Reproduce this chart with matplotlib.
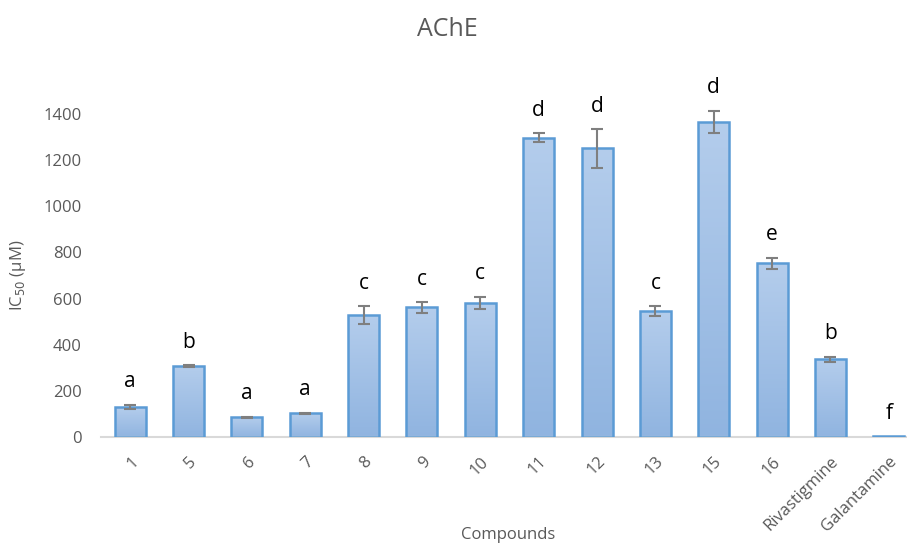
import matplotlib
matplotlib.use("Agg")
import matplotlib.pyplot as plt
import numpy as np
from matplotlib.colors import LinearSegmentedColormap

plt.rcParams['font.family'] = ['Open Sans', 'DejaVu Sans']

compounds = ['1', '5', '6', '7', '8', '9', '10', '11', '12', '13', '15', '16',
             'Rivastigmine', 'Galantamine']
ic50 = [130, 308, 85, 103, 530, 562, 582, 1297, 1251, 546, 1367, 753, 337, 3]
ic50_err = [10, 4, 3, 3, 38, 23, 26, 19, 84, 20, 48, 25, 12, 0]
groups = ['a', 'b', 'a', 'a', 'c', 'c', 'c', 'd', 'd', 'c', 'd', 'e', 'b', 'f']
y_ticks = [0, 200, 400, 600, 800, 1000, 1200, 1400]

W, H = 907, 545
fig = plt.figure(figsize=(W / 100, H / 100), dpi=100)
left, right, bottom, top = 101, 918, 437, 68
ax = fig.add_axes([left / W, 1 - bottom / H, (right - left) / W, (bottom - top) / H])

x = np.arange(len(compounds))
edge = '#5b9bd5'
bars = ax.bar(x, ic50, width=0.53, color='#9fbfe6', edgecolor=edge, linewidth=1.8, zorder=2)

# vertical gradient fill inside each bar
grad = np.linspace(0, 1, 256).reshape(-1, 1)
cmap = LinearSegmentedColormap.from_list('barfill', ['#90b4e0', '#b4cdec'])
for b in bars:
    x0, y0 = b.get_x(), b.get_y()
    w, h = b.get_width(), b.get_height()
    if h <= 0:
        continue
    im = ax.imshow(grad, extent=[x0, x0 + w, y0, y0 + h], origin='lower',
                   aspect='auto', cmap=cmap, zorder=2.1)
    im.set_clip_path(b)
    b.set_facecolor('none')
    b.set_zorder(2.6)

err = np.array(ic50_err)
has_err = err > 0
ax.errorbar(x[has_err], np.array(ic50)[has_err], yerr=err[has_err], fmt='none',
            ecolor='#7f7f7f', elinewidth=1.5, capsize=4.5, capthick=1.5, zorder=3)

for xi, v, e, g in zip(x, ic50, ic50_err, groups):
    ax.annotate(g, (xi, v + e), xytext=(0, 9), textcoords='offset points',
                ha='center', va='bottom', fontsize=15, color='black')

ax.set_xlim(-0.5, len(compounds) - 0.5)
ax.set_ylim(0, 1600)
ax.set_yticks(y_ticks)
ax.set_yticklabels([str(t) for t in y_ticks], fontsize=12, color='#595959')
ax.set_xticks(x)
ax.set_xticklabels(compounds, rotation=45, ha='right', rotation_mode='anchor',
                   fontsize=12, color='#595959')
ax.tick_params(axis='both', length=0)
ax.tick_params(axis='y', pad=14)
ax.tick_params(axis='x', pad=12)

for s in ['top', 'right', 'left']:
    ax.spines[s].set_visible(False)
ax.spines['bottom'].set_color('#d9d9d9')
ax.spines['bottom'].set_linewidth(1.5)

fig.text(447 / W, 1 - 30 / H, 'AChE', ha='center', va='center', fontsize=18, color='#595959')
fig.text(508 / W, 1 - 535 / H, 'Compounds', ha='center', va='center', fontsize=12, color='#595959')
fig.text(18 / W, 1 - 275 / H, 'IC$_{50}$ (\u00b5M)', ha='center', va='center', rotation=90,
         fontsize=12, color='#595959')

fig.savefig('out.png', dpi=100)
